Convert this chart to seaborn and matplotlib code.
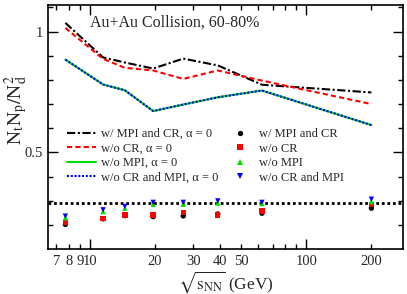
import numpy as np
import pandas as pd
import matplotlib
matplotlib.use("Agg")
import matplotlib.pyplot as plt
import seaborn as sns
from matplotlib.ticker import FixedLocator, FixedFormatter, NullFormatter
from matplotlib.lines import Line2D

sns.set_theme(style="white")
plt.rcParams['font.family'] = ['Liberation Serif', 'DejaVu Serif']
plt.rcParams['mathtext.fontset'] = 'stix'

# ---------------- data ----------------
energies = [7.7, 11.5, 14.5, 19.6, 27, 39, 62.4, 200]

line_mpi_cr = [1.036, 0.893, 0.872, 0.847, 0.888, 0.860, 0.780, 0.748]
line_no_cr = [1.015, 0.887, 0.850, 0.839, 0.804, 0.839, 0.797, 0.700]
line_no_mpi = [0.884, 0.781, 0.757, 0.671, 0.698, 0.728, 0.756, 0.613]
line_no_cr_mpi = [0.884, 0.781, 0.757, 0.671, 0.698, 0.728, 0.756, 0.613]

pts_mpi_cr = [0.202, 0.225, 0.238, 0.234, 0.237, 0.245, 0.248, 0.269]
pts_no_cr = [0.209, 0.227, 0.240, 0.240, 0.251, 0.241, 0.257, 0.285]
pts_no_mpi = [0.229, 0.255, 0.269, 0.285, 0.285, 0.290, 0.288, 0.296]
pts_no_cr_mpi = [0.236, 0.262, 0.276, 0.293, 0.293, 0.299, 0.293, 0.306]

ref_value = 0.29

line_labels = [r"w/ MPI and CR, α = 0", r"w/o CR, α = 0", r"w/o MPI, α = 0",
               r"w/o CR and MPI, α = 0"]
pt_labels = ["w/ MPI and CR", "w/o CR", "w/o MPI", "w/o CR and MPI"]

ytick_vals = [0.5, 1.0]
ytick_labels = ["0.5", "1"]

# ---------------- figure ----------------
fig = plt.figure(figsize=(4.07, 2.94), dpi=100)
ax = fig.add_axes([48/407, 1-249/294, 355/407, 244/294])

lw = 1.5
styles = [
    dict(color="black", linestyle=(0, (4, 1.2, 1, 1.2))),
    dict(color="red", linestyle=(0, (2.5, 1.5))),
    dict(color="#00e000", linestyle="-"),
    dict(color="blue", linestyle=(0, (1, 0.8))),
]
for vals, st in zip([line_mpi_cr, line_no_cr, line_no_mpi, line_no_cr_mpi], styles):
    sns.lineplot(x=energies, y=vals, ax=ax, lw=lw, legend=False, **st)

ax.axhline(ref_value, color="black", lw=2, linestyle=(0, (1, 1)))

mstyles = [
    dict(color="black", marker="o"),
    dict(color="red", marker="s"),
    dict(color="#00e000", marker="^"),
    dict(color="blue", marker="v"),
]
for vals, st in zip([pts_mpi_cr, pts_no_cr, pts_no_mpi, pts_no_cr_mpi], mstyles):
    sns.scatterplot(x=energies, y=vals, ax=ax, s=15, edgecolor="none",
                    legend=False, zorder=5, **st)

ax.set_xscale("log")
ax.set_xlim(6.4, 280)
ax.set_ylim(0.1, 1.11)

ax.xaxis.set_major_locator(FixedLocator([10, 100]))
ax.xaxis.set_major_formatter(FixedFormatter(["10", "100"]))
minor_x = [7, 8, 9, 20, 30, 40, 50, 60, 70, 80, 90, 200]
ax.xaxis.set_minor_locator(FixedLocator(minor_x))
ax.xaxis.set_minor_formatter(FixedFormatter(["7", "8", "9", "20", "30", "40", "50", "", "", "", "", "200"]))

ax.yaxis.set_major_locator(FixedLocator(ytick_vals))
ax.yaxis.set_major_formatter(FixedFormatter(ytick_labels))
ax.yaxis.set_minor_locator(FixedLocator([0.2, 0.3, 0.4, 0.6, 0.7, 0.8, 0.9, 1.1]))
ax.yaxis.set_minor_formatter(NullFormatter())

ax.tick_params(which="both", direction="in", top=True, right=True, bottom=True, left=True,
               labelsize=10.5, color="black", width=1)
ax.tick_params(which="major", length=7)
ax.tick_params(which="minor", length=3.6)
ax.tick_params(axis="x", which="both", pad=4)

for s in ax.spines.values():
    s.set_color("black")
    s.set_linewidth(1.2)

ax.set_xlabel(r"$\sqrt{\mathrm{s}_{\rm NN}}$ (GeV)", fontsize=12.5, labelpad=1)
ax.set_ylabel(r"$\rm N_t N_p/N_d^2$", fontsize=14)
ax.yaxis.set_label_coords(-0.05, 0.57)

ax.text(0.118, 0.926, "Au+Au Collision, 60-80%", transform=ax.transAxes,
        fontsize=11.5, va="center", ha="left")

handles = []
for lab, st in zip(line_labels, styles):
    handles.append(Line2D([], [], lw=lw, label=lab, **st))
for lab, st in zip(pt_labels, mstyles):
    handles.append(Line2D([], [], lw=0, markersize=3.8, markeredgewidth=0,
                          label=lab, **st))
leg = ax.legend(handles=handles, ncol=2, loc="upper left",
                bbox_to_anchor=(0.053, 0.495), frameon=False, fontsize=9,
                handlelength=2.3, handletextpad=0.4, columnspacing=0.6,
                labelspacing=0.2, borderpad=0, borderaxespad=0)

fig.savefig("out.png", dpi=100)
